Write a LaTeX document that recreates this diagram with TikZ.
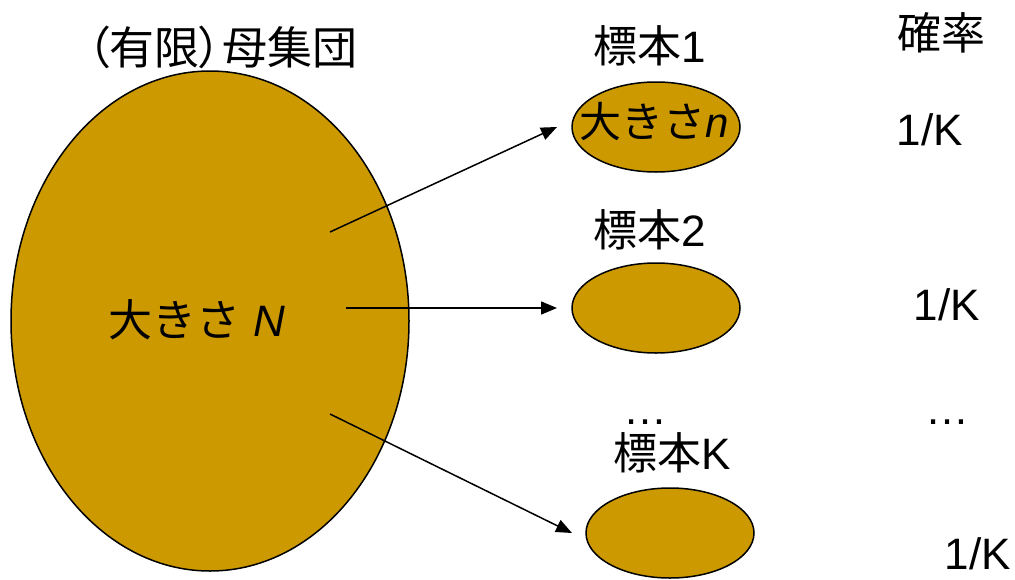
\documentclass[tikz,border=0pt]{standalone}
\usepackage{fontspec}
\setmainfont{Liberation Sans}
\newfontfamily\jp{Noto Sans CJK JP}
\newfontfamily\jpp[RawFeature=+palt]{Noto Sans CJK JP}
\usetikzlibrary{shapes.geometric,arrows.meta}
\definecolor{gold}{HTML}{CC9900}
\tikzset{
  blob/.style={ellipse, draw=black, line width=1.5pt, fill=gold, inner sep=0pt},
  lbl/.style={inner sep=0pt, font=\fontsize{44}{52}\selectfont},
  conn/.style={draw=black, line width=1.5pt, -{Triangle[length=16pt,width=13pt]}}
}
\begin{document}
\begin{tikzpicture}[x=1pt,y=-1pt]
\useasboundingbox (0,0) rectangle (1015,579);
% population
\node[blob, minimum width=398pt, minimum height=500pt] (pop) at (210,321) {};
\node[lbl] (popl) at (197,320) {\jp 大きさ\rm\ \textit{N}};
\node[lbl, font=\fontsize{45}{52}\selectfont] (title) at (222,47) {\jpp （有限）母集団};
% samples
\node[blob, minimum width=168pt, minimum height=90pt] (s1) at (656,127) {};
\node[lbl, font=\fontsize{42}{50}\selectfont] (s1l) at (654,122) {\jp 大きさ\rm\textit{n}};
\node[blob, minimum width=168pt, minimum height=90pt] (s2) at (656,308) {};
\node[blob, minimum width=168pt, minimum height=90pt] (s3) at (670,533) {};
\node[lbl] (t1) at (650,46) {{\jp 標本}1};
\node[lbl] (t2) at (650,230) {{\jp 標本}2};
\node[lbl, anchor=base] (dl) at (645,424) {…};
\node[lbl] (tk) at (672,453) {{\jp 標本}K};
% probabilities
\node[lbl] (prob) at (941,33) {\jp 確率};
\node[lbl, anchor=base] (p1) at (930,145) {1/K};
\node[lbl, anchor=base] (p2) at (947,320) {1/K};
\node[lbl, anchor=base] (dr) at (947,424) {…};
\node[lbl, anchor=base] (p3) at (978,569) {1/K};
% arrows
\coordinate (a1s) at (330,232);
\coordinate (a1e) at (557,127);
\coordinate (a2s) at (346,308);
\coordinate (a2e) at (557,308);
\coordinate (a3s) at (330,414);
\coordinate (a3e) at (572,533);
\draw[conn] (a1s) -- (a1e);
\draw[conn] (a2s) -- (a2e);
\draw[conn] (a3s) -- (a3e);
\end{tikzpicture}
\end{document}
